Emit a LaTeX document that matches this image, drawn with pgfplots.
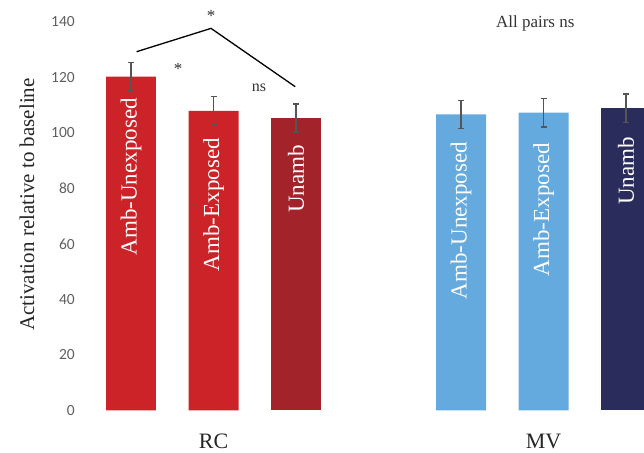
\documentclass[border=0pt]{standalone}
\usepackage{fontspec}
\setmainfont{Liberation Serif}
\newfontfamily\tickfont{Carlito}
\usepackage{pgfplots}
\pgfplotsset{compat=1.18}
\definecolor{rcred}{RGB}{204,35,41}
\definecolor{rcdark}{RGB}{163,35,43}
\definecolor{mvlight}{RGB}{100,170,222}
\definecolor{mvdark}{RGB}{42,45,92}
\definecolor{errgray}{RGB}{85,85,85}
\definecolor{tickgray}{RGB}{95,95,95}
\begin{document}
\begin{tikzpicture}
\begin{axis}[
  scale only axis,
  width=562.5pt, height=388.5pt,
  xmin=-0.6, xmax=6.218,
  ymin=0, ymax=140,
  ytick={0,20,...,140},
  xtick={1,5}, xticklabels={RC,MV},
  axis line style={draw=none},
  major tick length=0pt,
  tick style={draw=none},
  /pgf/number format/assume math mode=true,
  yticklabel style={font=\tickfont\fontsize{15.5}{17}\selectfont, text=tickgray, anchor=east, inner sep=0pt, xshift=-6.5pt},
  xticklabel style={font=\fontsize{22}{24}\selectfont, text=black!85, anchor=center, inner sep=0pt, yshift=-30.5pt},
  ylabel={Activation relative to baseline},
  every axis y label/.style={at={(axis description cs:0,0.53)}, xshift=-54.5pt, rotate=90, anchor=center, font=\fontsize{21}{23}\selectfont, text=black!85},
  clip mode=individual,
  ybar, bar width=0.606, bar shift=0pt,
  error bars/error bar style={line width=1.5pt, color=errgray},
  error bars/error mark options={rotate=90, mark size=3pt, line width=1.5pt, color=errgray},
]
\addplot[fill=rcred, draw=none, error bars/.cd, y dir=both, y explicit]
  coordinates {(0,120.3) +- (0,5.1) (1,108.0) +- (0,5.2)};
\addplot[fill=rcdark, draw=none, error bars/.cd, y dir=both, y explicit]
  coordinates {(2,105.3) +- (0,5.2)};
\addplot[fill=mvlight, draw=none, error bars/.cd, y dir=both, y explicit]
  coordinates {(4,106.7) +- (0,5.1) (5,107.3) +- (0,5.1)};
\addplot[fill=mvdark, draw=none, error bars/.cd, y dir=both, y explicit]
  coordinates {(6,108.9) +- (0,5.2)};
\addplot[sharp plot, black, line width=1.3pt, mark=none, forget plot]
  coordinates {(0.068,129.3) (0.97,137.7) (1.99,116.7)};
\begin{scope}[every node/.style={rotate=90, anchor=east, inner sep=0pt, text=white, font=\fontsize{23}{25}\selectfont}]
\node at (axis cs:0,112.6) {Amb-Unexposed};
\node at (axis cs:1,98.2) {Amb-Exposed};
\node at (axis cs:2,95.7) {Unamb};
\node at (axis cs:4,96.8) {Amb-Unexposed};
\node at (axis cs:5,96.4) {Amb-Exposed};
\node at (axis cs:6,98.6) {Unamb};
\end{scope}
\node[font=\fontsize{17}{19}\selectfont, text=black!80, inner sep=0pt] at (axis cs:0.97,142.2) {*};
\node[font=\fontsize{17}{19}\selectfont, text=black!80, inner sep=0pt] at (axis cs:0.57,123.2) {*};
\node[font=\fontsize{16}{18}\selectfont, text=black!80, inner sep=0pt] at (axis cs:1.55,116.2) {ns};
\node[font=\fontsize{17}{19}\selectfont, text=black!80, inner sep=0pt] at (axis cs:4.90,139.6) {All pairs ns};
\end{axis}
\pgfresetboundingbox
\useasboundingbox ([xshift=-81.5pt,yshift=-42.5pt]current axis.south west) rectangle ([yshift=22pt]current axis.north east);
\end{tikzpicture}
\end{document}
